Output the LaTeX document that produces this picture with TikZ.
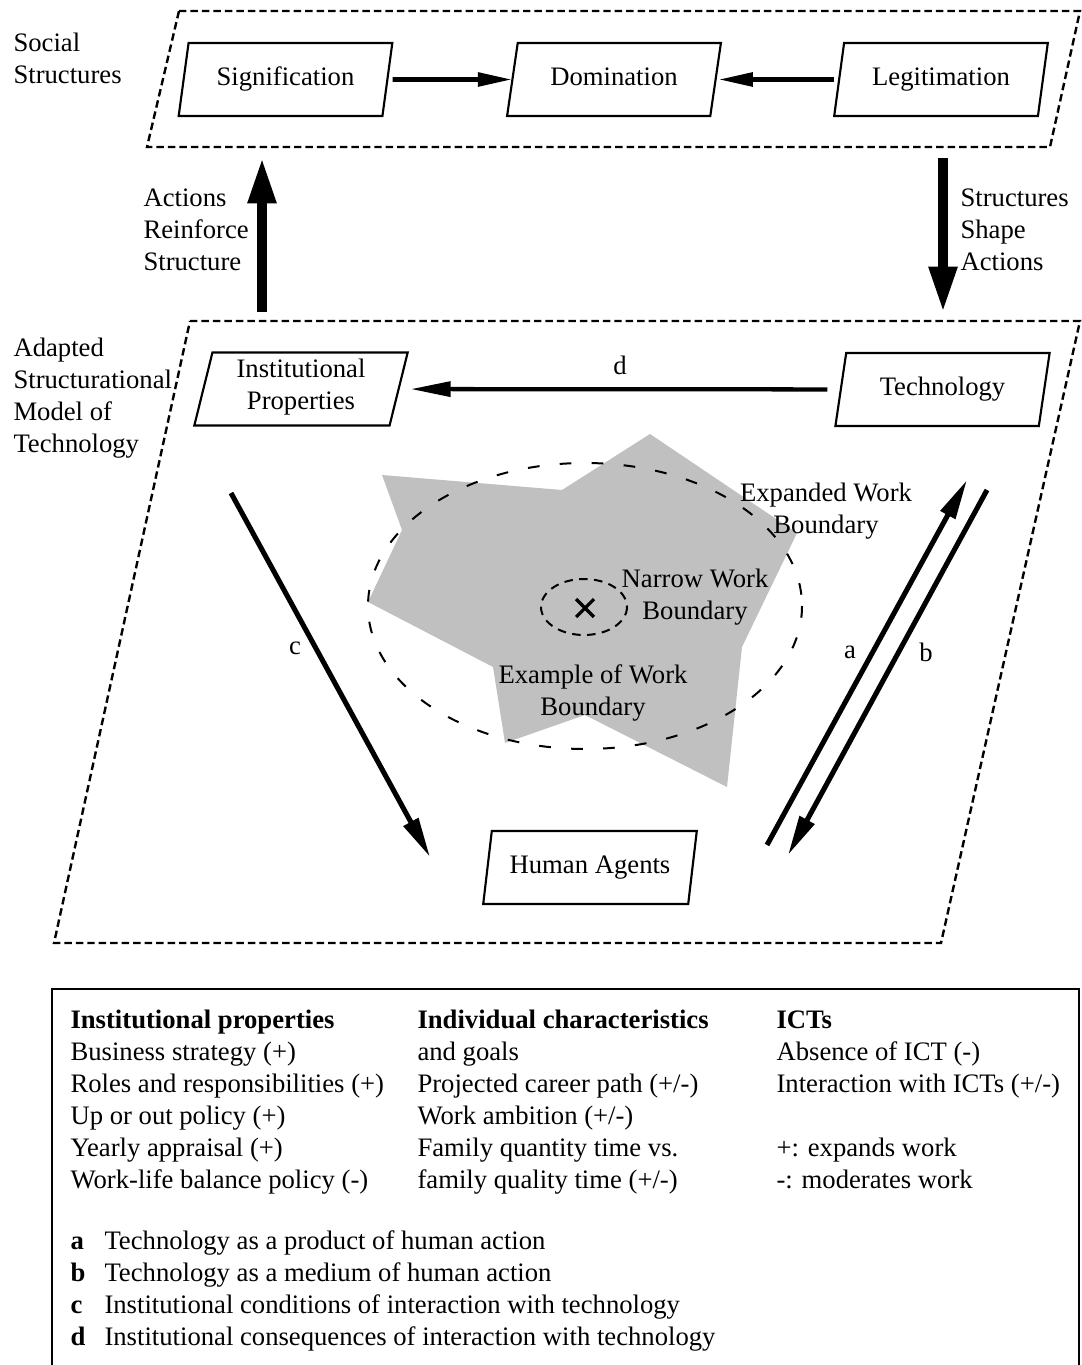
\documentclass[tikz,border=0pt]{standalone}
\usepackage{fontspec}
\setmainfont{Liberation Serif}
\usetikzlibrary{arrows.meta,shapes.geometric,shapes.misc}

\definecolor{boundarygray}{RGB}{192,192,192}

\tikzset{
  pbox/.style={trapezium, trapezium left angle=77.6, trapezium right angle=102.4,
    trapezium stretches=true, draw, line width=0.8pt, minimum width=80.4pt,
    minimum height=27.4pt, align=center, inner sep=0pt, outer sep=0pt,
    execute at begin node=\strut},
  frameline/.style={line width=0.9pt, dash pattern=on 2.8pt off 1.5pt},
  wideboundary/.style={line width=0.75pt, dash pattern=on 4.4pt off 7.6pt},
  narrowboundary/.style={line width=0.75pt, dash pattern=on 3.2pt off 2.4pt},
  flowarrow/.style={line width=1.8pt, -{Triangle[length=13pt,width=5pt]}},
  darrow/.style={line width=1.6pt, -{Triangle[length=15pt,width=5.5pt]}},
  bigarrow/.style={line width=3.5pt, -{Triangle[length=17pt,width=10pt]}},
  keyarrow/.style={line width=1.9pt, -{Triangle[length=15pt,width=6pt]}},
  sidetext/.style={anchor=west, align=left, inner sep=0pt},
  midtext/.style={align=center, inner sep=0pt},
  legendtext/.style={anchor=base west, inner sep=0pt},
}

\begin{document}
\begin{tikzpicture}[x=0.375pt, y=-0.375pt, font=\fontsize{10}{12}\selectfont]
\useasboundingbox (0,0) rectangle (1081,1365);

% work boundaries
\fill[boundarygray] (382,475) -- (562,490) -- (650,434) -- (797,533) -- (742,647)
  -- (727,787) -- (585,715) -- (505,743) -- (493,667) -- (368,602) -- (402,530) -- cycle;
\draw[wideboundary] (585,606) ellipse [x radius=217, y radius=143];
\draw[narrowboundary] (584,607) ellipse [x radius=43, y radius=28];
\node[draw, cross out, minimum size=5.5pt, inner sep=0pt, line width=1.2pt] (centre) at (585,608) {};

\node[midtext] (expandedlab) at (826,511) {Expanded Work\\Boundary};
\node[midtext] (narrowlab) at (695,597) {Narrow Work\\Boundary};
\node[midtext] (examplelab) at (593,693) {Example of Work\\Boundary};

% frames
\draw[frameline] (179,11) -- (1080,11) -- (1050,147) -- (147,147) -- cycle;
\draw[frameline] (190,321) -- (1080,321) -- (941,943) -- (54,943) -- cycle;

\node[sidetext] (sociallab) at (13,58) {Social\\Structures};
\node[sidetext] (modellab) at (13,398) {Adapted\\Structurational\\Model of\\Technology};

% boxes
\foreach \boxname/\x/\y/\txt in {sig/285.5/79.5/Signification, dom/614/79.5/Domination,
    leg/941/79.5/Legitimation, inst/301/389/{Institutional\\Properties},
    tech/942.5/389.5/Technology, agents/590/867.5/Human Agents} {
  \node[pbox] (\boxname) at (\x,\y) {\txt};
}

\draw[flowarrow, shorten <=2pt] (sig) -- (dom);
\draw[flowarrow, shorten <=2pt, shorten >=1pt] (leg) -- (dom);
\draw[darrow, shorten <=5pt, shorten >=4.5pt] (tech) -- (inst);
\node (dlab) at (620,365) {d};

% structure <-> action
\coordinate (reinforcefoot) at (262,312);
\coordinate (reinforcehead) at (262,158);
\coordinate (shapefoot) at (943,158);
\coordinate (shapehead) at (943,312);
\draw[bigarrow] (reinforcefoot) -- (reinforcehead);
\draw[bigarrow] (shapefoot) -- (shapehead);
\node[sidetext] (reinforcelab) at (143,230) {Actions\\Reinforce\\Structure};
\node[sidetext] (shapelab) at (960,230) {Structures\\Shape\\Actions};

% a, b, c
\coordinate (afoot) at (767,845);
\coordinate (ahead) at (967,480);
\coordinate (bfoot) at (987,490);
\coordinate (bhead) at (788,855);
\coordinate (cfoot) at (231,493);
\coordinate (chead) at (430,857);
\draw[keyarrow] (afoot) -- (ahead);
\draw[keyarrow] (bfoot) -- (bhead);
\draw[keyarrow] (cfoot) -- (chead);
\node (alab) at (850,652) {a};
\node (blab) at (926,652) {b};
\node (clab) at (295,648) {c};

% legend
\draw[line width=0.75pt] (52,1365) -- (52,989) -- (1079,989) -- (1079,1365);
\foreach \row/\txt in {0/{\textbf{Institutional properties}}, 1/{Business strategy (+)},
    2/{Roles and responsibilities (+)}, 3/{Up or out policy (+)},
    4/{Yearly appraisal (+)}, 5/{Work-life balance policy (-)}} {
  \node[legendtext] (inprop\row) at (70,{1028+32*\row}) {\txt};
}
\foreach \row/\txt in {0/{\textbf{Individual characteristics}}, 1/{and goals},
    2/{Projected career path (+/-)}, 3/{Work ambition (+/-)},
    4/{Family quantity time vs.}, 5/{family quality time (+/-)}} {
  \node[legendtext] (indiv\row) at (417,{1028+32*\row}) {\txt};
}
\foreach \row/\txt in {0/{\textbf{ICTs}}, 1/{Absence of ICT (-)},
    2/{Interaction with ICTs (+/-)}, 4/{+: expands work}, 5/{-: moderates work}} {
  \node[legendtext] (ict\row) at (776,{1028+32*\row}) {\txt};
}
\foreach \row/\ltr/\txt in {0/a/{Technology as a product of human action},
    1/b/{Technology as a medium of human action},
    2/c/{Institutional conditions of interaction with technology},
    3/d/{Institutional consequences of interaction with technology}} {
  \node[legendtext] (key\ltr) at (70,{1249+32*\row}) {\textbf{\ltr}};
  \node[legendtext] (keytext\ltr) at (104,{1249+32*\row}) {\txt};
}
\end{tikzpicture}
\end{document}
